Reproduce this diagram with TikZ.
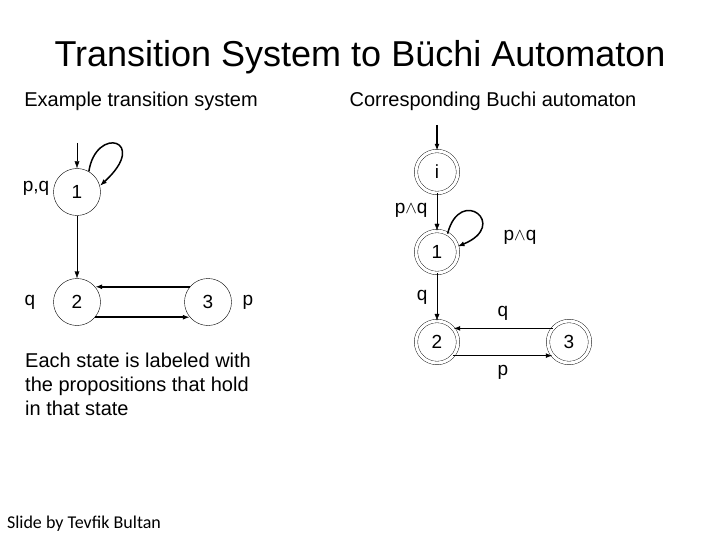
\documentclass[tikz,border=0pt]{standalone}
\usepackage{fontspec}
\setmainfont{Liberation Sans}
\newfontfamily\calib{Carlito}
\usetikzlibrary{arrows.meta}
\begin{document}
\begin{tikzpicture}[x=1pt,y=-1pt,
  st/.style={circle,draw,minimum size=47pt,inner sep=0pt,font=\fontsize{19}{22}\selectfont},
  acc/.style={st,double,double distance=3pt,minimum size=42pt},
  lab/.style={font=\fontsize{19}{22}\selectfont},
  ar/.style={-{Latex[length=7pt,width=5pt]}},
  thk/.style={ar,line width=1.5pt}]
\useasboundingbox (0,0) rectangle (720,540);
\node[font=\fontsize{36}{40}\selectfont] (title) at (360,57) {Transition System to Büchi Automaton};
\node[font=\fontsize{20}{24}\selectfont] (h1) at (141,101) {Example transition system};
\node[font=\fontsize{20}{24}\selectfont] (h2) at (493,101) {Corresponding Buchi automaton};
% left
\node[st] (a1) at (77,192) {1};
\node[st] (a2) at (77,302) {2};
\node[st] (a3) at (208,302) {3};
\node[lab] (l1) at (36,188) {p,q};
\node[lab] (l2) at (30,302) {q};
\node[lab] (l3) at (248,302) {p};
\coordinate (s1) at (77,143);
\draw[ar] (s1) -- (a1);
\draw[ar] (a1) -- (a2);
\draw[thk] (a1.60) .. controls (96,125) and (150,140) .. (a1.15);
\draw[thk] (a3.140) -- (a2.40);
\draw[thk] (a2.-40) -- (a3.-140);
% right
\node[acc] (b0) at (437,172) {i};
\node[acc] (b1) at (437,252) {1};
\node[acc] (b2) at (437,342) {2};
\node[acc] (b3) at (569,342) {3};
\coordinate (s2) at (437,125);
\draw[thk] (s2) -- (b0);
\draw[ar] (b0) -- node[lab,left=6pt,pos=0.45] {p$\land$q} (b1);
\draw[thk] (b1.60) .. controls (460,185) and (510,225) .. (b1.15);
\node[lab] (lp) at (520,237) {p$\land$q};
\draw[ar] (b1) -- node[lab,left=6pt,pos=0.5] {q} (b2);
\draw[thk] (b3.140) -- node[lab,above=4pt] {q} (b2.40);
\draw[thk] (b2.-40) -- node[lab,below=6pt] {p} (b3.-140);
% text
\node[anchor=north west,align=left,inner sep=0pt,font=\fontsize{20}{24}\selectfont] (txt) at (25,353) {Each state is labeled with\\the propositions that hold\\in that state};
\node[font=\calib\fontsize{18}{20}\selectfont] (cr) at (84,524) {Slide by Tevfik Bultan};
\end{tikzpicture}
\end{document}
